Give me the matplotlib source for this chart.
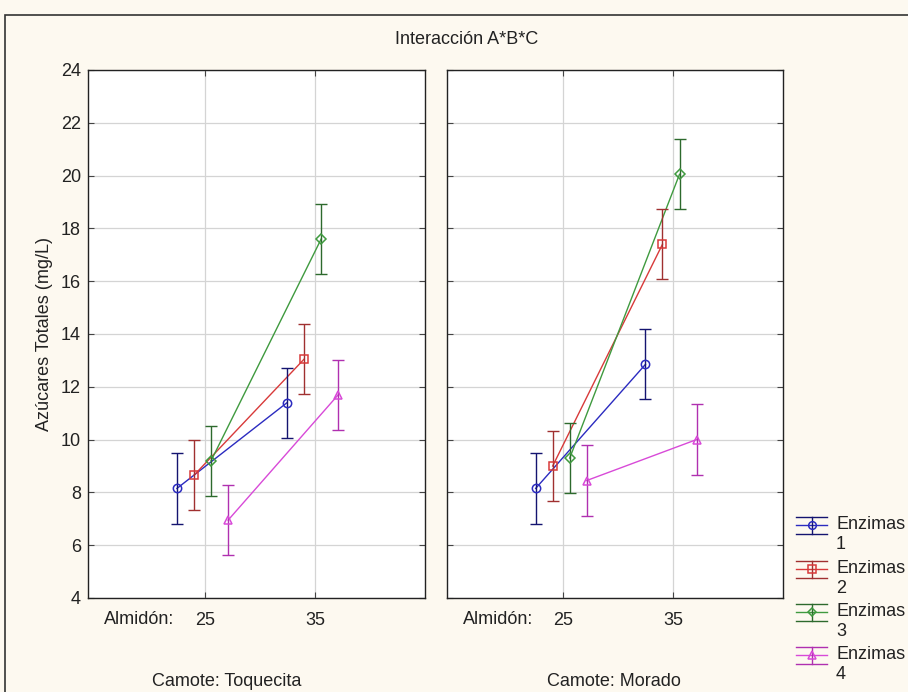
import matplotlib
matplotlib.use("Agg")
import matplotlib.pyplot as plt
from matplotlib.patches import Rectangle
from matplotlib.lines import Line2D
import numpy as np

plt.rcParams['font.family'] = ['Liberation Sans', 'DejaVu Sans']

almidon = ["25", "35"]
camotes = ["Camote: Toquecita", "Camote: Morado"]
series = ["Enzimas\n1", "Enzimas\n2", "Enzimas\n3", "Enzimas\n4"]

toquecita_means = [[8.15, 11.4], [8.65, 13.05], [9.2, 17.6], [6.95, 11.7]]
toquecita_err = [[1.33, 1.33], [1.33, 1.33], [1.33, 1.33], [1.33, 1.33]]
morado_means = [[8.15, 12.85], [9.0, 17.4], [9.3, 20.05], [8.45, 10.0]]
morado_err = [[1.33, 1.33], [1.33, 1.33], [1.33, 1.33], [1.33, 1.33]]

line_colors = ["#2b2bc0", "#d83a3a", "#3f9a3f", "#d84ad8"]
err_colors = ["#141470", "#a03030", "#2d6a2d", "#b030b0"]
markers = ["o", "s", "D", "^"]
msizes = [6, 6, 5, 6]

FS = 13
W, H = 908, 692
fig = plt.figure(figsize=(W / 100, H / 100), dpi=100)
fig.patch.set_facecolor("#fdf9f0")
fig.add_artist(Rectangle((5 / W, -0.01), 1.0, 1 - 15 / H + 0.01,
                         transform=fig.transFigure, fill=False,
                         edgecolor="#333333", linewidth=1.2))

bottom = 1 - 598 / H
height = (598 - 70) / H
ax1 = fig.add_axes([88 / W, bottom, 337 / W, height])
ax2 = fig.add_axes([447 / W, bottom, 336 / W, height])

offsets = np.array([-1.5, -0.5, 0.5, 1.5]) * 0.155 - 0.02
x = np.arange(len(almidon))

for ax, means, errs in [(ax1, toquecita_means, toquecita_err),
                        (ax2, morado_means, morado_err)]:
    ax.set_facecolor("white")
    for i in range(4):
        xs = x + offsets[i]
        ax.plot(xs, means[i], color=line_colors[i], lw=1.0, zorder=3)
        ax.errorbar(xs, means[i], yerr=errs[i], fmt="none", ecolor=err_colors[i],
                    elinewidth=1.0, capsize=4, capthick=1.0, zorder=4)
        ax.plot(xs, means[i], linestyle="none", marker=markers[i], ms=msizes[i],
                mfc="none", mec=line_colors[i], mew=1.1, zorder=5)
    ax.set_xlim(-1.06, 2.0)
    ax.set_ylim(4, 24)
    ax.set_yticks(np.arange(4, 25, 2))
    ax.set_xticks(x)
    ax.set_xticklabels(almidon)
    ax.grid(True, color="#d4d4d4", lw=0.9)
    ax.set_axisbelow(True)
    ax.tick_params(axis="both", direction="in", length=4, width=0.8, color="#444444",
                   labelsize=FS, top=True, right=True, labelcolor="#222222")
    ax.tick_params(axis="x", pad=10)
    ax.tick_params(axis="y", pad=5)
    for sp in ax.spines.values():
        sp.set_color("#222222")
        sp.set_linewidth(1.0)

ax2.tick_params(axis="y", labelleft=False)
ax1.set_ylabel("Azúcares Totales (mg/L)", fontsize=FS, labelpad=6, color="#222222")

# "Almidón:" prefix before first tick label, and Camote factor labels
for px in [174, 533]:
    fig.text(px / W, 1 - 620 / H, "Almidón:", ha="right", va="center",
             fontsize=FS, color="#222222")
for px, lab in zip([227, 614], camotes):
    fig.text(px / W, 1 - 682 / H, lab, ha="center", va="center",
             fontsize=FS, color="#222222")

fig.text(467 / W, 1 - 40 / H, "Interacción A*B*C", ha="center", va="center",
         fontsize=FS, color="#222222")

# Legend drawn manually (handle + two-line label)
pix = fig.dpi_scale_trans  # inches
def fx(p):
    return p / W
def fy(p):
    return 1 - p / H

entry_y = [525, 569, 612, 655]
for i, lab in enumerate(series):
    yc = entry_y[i]
    x0, x1 = 796, 827
    xm = (x0 + x1) / 2
    for yy, col in [(yc - 8.5, err_colors[i]), (yc + 8.5, err_colors[i]), (yc, line_colors[i])]:
        fig.add_artist(Line2D([fx(x0), fx(x1)], [fy(yy), fy(yy)], color=col, lw=1.0,
                              transform=fig.transFigure))
    fig.add_artist(Line2D([fx(xm), fx(xm)], [fy(yc - 8.5), fy(yc + 8.5)], color=err_colors[i],
                          lw=1.0, transform=fig.transFigure))
    fig.add_artist(Line2D([fx(xm)], [fy(yc)], marker=markers[i], ms=msizes[i] - 0.5,
                          mfc="none", mec=line_colors[i], mew=1.1, linestyle="none",
                          transform=fig.transFigure))
    fig.text(fx(836), fy(yc), lab, ha="left", va="top", fontsize=FS, color="#222222",
             linespacing=1.2, transform=fig.transFigure).set_y(fy(yc - 9))

fig.savefig("out.png", dpi=100, facecolor=fig.get_facecolor())
